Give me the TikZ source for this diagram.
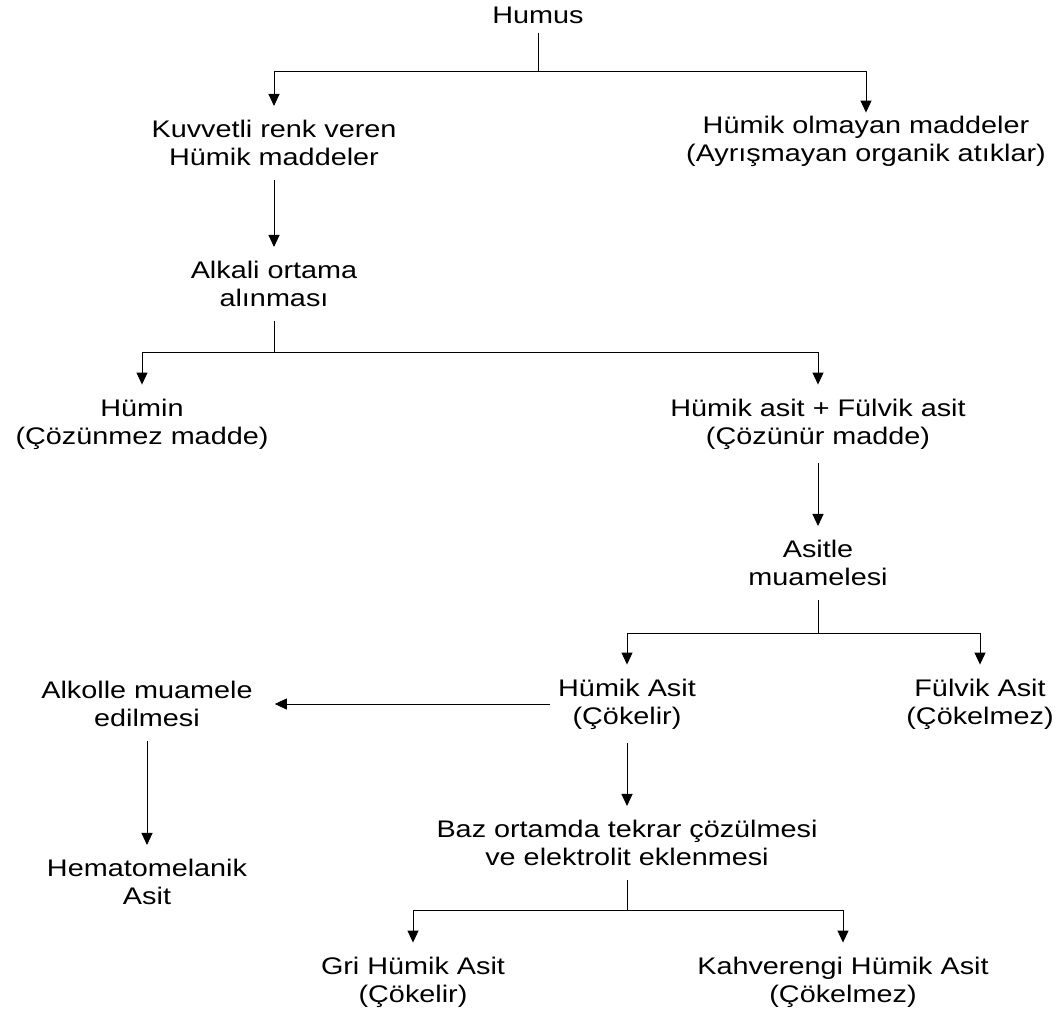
\documentclass[tikz,border=0pt]{standalone}
\usepackage{fontspec}
\setmainfont{Liberation Sans}[FakeStretch=1.2]
\usetikzlibrary{arrows.meta}

\begin{document}
\begin{tikzpicture}[x=1pt,y=-1pt]
\tikzstyle{lien}=[-{Triangle[length=12pt,width=11pt]},line width=1pt]
\tikzstyle{trait}=[line width=1pt]
\tikzset{etape/.style={align=center,inner xsep=2pt,inner ysep=#1,
font=\fontsize{24}{28}\selectfont},
etape/.default={14pt}}
\useasboundingbox (0,0) rectangle (1060,1014);

\node[etape=9pt] (H) at (538,15) {Humus};
\node[etape] (K) at (274,143) {Kuvvetli renk veren\\Hümik maddeler};
\node[etape=3pt] (O) at (866,141) {Hümik olmayan maddeler\\(Ayrışmayan organik atıklar)};
\node[etape] (A) at (274,284) {Alkali ortama\\alınması};
\node[etape] (HM) at (142,424) {Hümin\\(Çözünmez madde)};
\node[etape] (HF) at (818,424) {Hümik asit + Fülvik asit\\(Çözünür madde)};
\node[etape] (AS) at (818,563) {Asitle\\muamelesi};
\node[etape] (HA) at (627,704) {Hümik Asit\\(Çökelir)};
\node[etape] (FA) at (980,704) {Fülvik Asit\\(Çökelmez)};
\node[etape] (AM) at (147,704) {Alkolle muamele\\edilmesi};
\node[etape] (HE) at (147,882) {Hematomelanik\\Asit};
\node[etape] (BZ) at (627,843) {Baz ortamda tekrar çözülmesi\\ve elektrolit eklenmesi};
\node[etape] (GR) at (413,982) {Gri Hümik Asit\\(Çökelir)};
\node[etape] (KH) at (843,982) {Kahverengi Hümik Asit\\(Çökelmez)};

\coordinate (c1) at (538,72);
\coordinate (c2) at (274,352);
\coordinate (c3) at (818,633);
\coordinate (c4) at (627,910);

\draw[trait] (H) -- (c1);
\draw[lien] (c1) -| (K);
\draw[lien] (c1) -| (O);
\draw[lien] (K) -- (A);
\draw[trait] (A) -- (c2);
\draw[lien] (c2) -| (HM);
\draw[lien] (c2) -| (HF);
\draw[lien] (HF) -- (AS);
\draw[trait] (AS) -- (c3);
\draw[lien] (c3) -| (HA);
\draw[lien] (c3) -| (FA);
\draw[lien,shorten <=6pt,shorten >=20pt] (HA) -- (AM);
\draw[lien] (AM) -- (HE);
\draw[lien] (HA) -- (BZ);
\draw[trait] (BZ) -- (c4);
\draw[lien] (c4) -| (GR);
\draw[lien] (c4) -| (KH);

\end{tikzpicture}
\end{document}
